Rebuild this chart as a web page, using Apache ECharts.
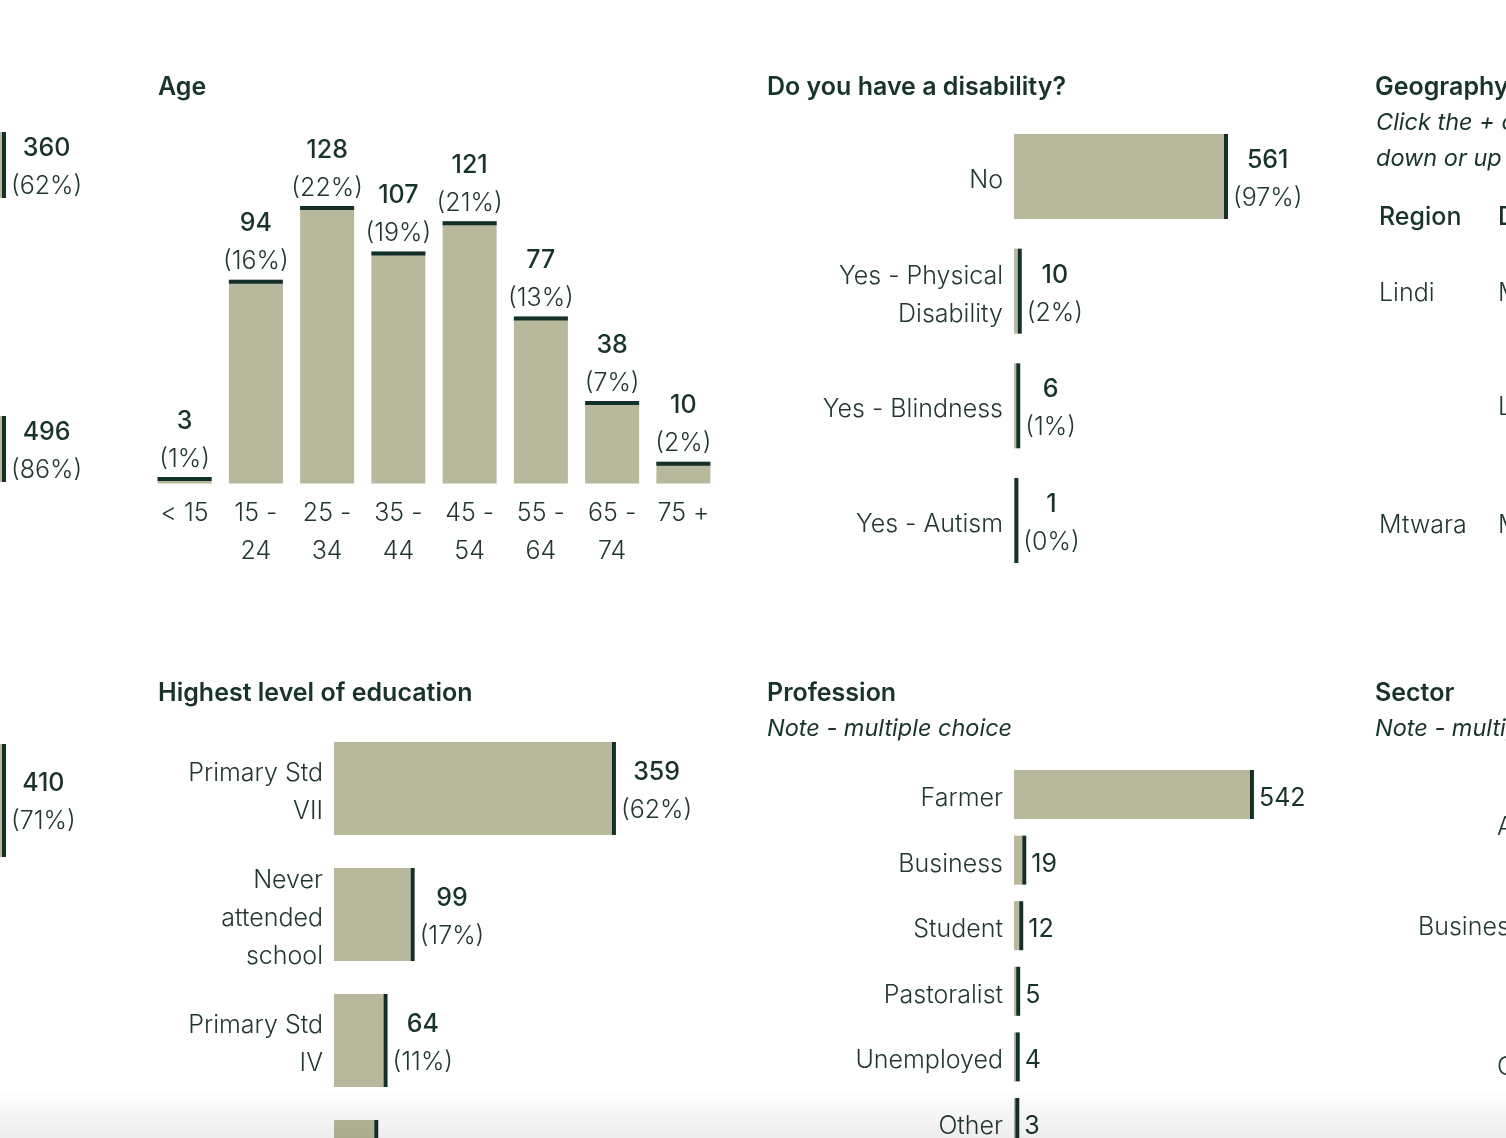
<!DOCTYPE html>
<html><head><meta charset="utf-8">
<script src="https://cdn.jsdelivr.net/npm/echarts@6/dist/echarts.min.js"></script>
<style>html,body{margin:0;padding:0;background:#fff;overflow:hidden;height:1138px}
#wrap{position:relative;width:1506px;height:1138px;overflow:hidden}
#c{width:1506px;height:1300px}</style>
</head><body><div id="wrap"><div id="c"></div></div>
<script>
// ---------- data ----------
const ageCategories = ['< 15', '15 -\n24', '25 -\n34', '35 -\n44', '45 -\n54', '55 -\n64', '65 -\n74', '75 +'];
const ageValues = [3, 94, 128, 107, 121, 77, 38, 10];
const agePcts = ['1%', '16%', '22%', '19%', '21%', '13%', '7%', '2%'];

const disabilityCategories = ['No', 'Yes - Physical\nDisability', 'Yes - Blindness', 'Yes - Autism'];
const disabilityValues = [561, 10, 6, 1];
const disabilityPcts = ['97%', '2%', '1%', '0%'];

const educationCategories = ['Primary Std\nVII', 'Never\nattended\nschool', 'Primary Std\nIV', ''];
const educationValues = [359, 99, 64, 52];
const educationPcts = ['62%', '17%', '11%', '9%'];

const professionCategories = ['Farmer', 'Business', 'Student', 'Pastoralist', 'Unemployed', 'Other'];
const professionValues = [542, 19, 12, 5, 4, 3];

const leftStripValues = [360, 496, 410];
const leftStripPcts = ['62%', '86%', '71%'];

// ---------- style ----------
const FONT = "Inter, 'Noto Sans', sans-serif";
const TAN = '#b8b89c';
const DARK = '#14302a';
const TXT = '#17332a';
const LBL = '#22372f';
const FS = 25;

const richLbl = {
  v: { fontFamily: FONT, fontSize: FS, fontWeight: 500, color: TXT, lineHeight: 38, align: 'center' },
  p: { fontFamily: FONT, fontSize: FS, fontWeight: 300, color: LBL, lineHeight: 38, align: 'center' }
};
const twoLine = (vals, pcts) => p => '{v|' + vals[p.dataIndex] + '}\n{p|(' + pcts[p.dataIndex] + ')}';

const catLabel = { fontFamily: FONT, fontSize: FS, fontWeight: 300, color: LBL, lineHeight: 38 };

const grids = [
  { left: 149, top: 180, width: 570, height: 303.5 },          // 0 age
  { left: 1014, top: 119.2, width: 224.6, height: 458.6 },     // 1 disability
  { left: 334, top: 725.5, width: 309.7, height: 504 },        // 2 education
  { left: 1014, top: 761.7, width: 261.2, height: 393.6 },     // 3 profession
  { left: 0, top: 132, width: 2, height: 66 },                 // 4 strip a (bar continues off the left edge)
  { left: 0, top: 416, width: 2, height: 66 },                 // 5 strip b
  { left: 0, top: 744, width: 2, height: 113 }                 // 6 strip c
];

const xAxes = [
  { type: 'category', gridIndex: 0, data: ageCategories, axisLine: { show: false }, axisTick: { show: false },
    axisLabel: Object.assign({ margin: 10.5, interval: 0 }, catLabel) },
  { type: 'value', gridIndex: 1, min: 0, max: 600, show: false },
  { type: 'value', gridIndex: 2, min: 0, max: 400, show: false },
  { type: 'value', gridIndex: 3, min: 0, max: 600, show: false },
  { type: 'value', gridIndex: 4, min: 0, max: v => v.max, show: false },
  { type: 'value', gridIndex: 5, min: 0, max: v => v.max, show: false },
  { type: 'value', gridIndex: 6, min: 0, max: v => v.max, show: false }
];
// category labels sit a few px below the bar centre: add a thin spacer line on top
const catRich = {
  sp: { fontSize: 1, lineHeight: 8 },
  t: { fontFamily: FONT, fontSize: FS, fontWeight: 300, color: LBL, lineHeight: 38, align: 'right' }
};
const catY = (gi, data) => ({ type: 'category', gridIndex: gi, data, inverse: true, axisLine: { show: false }, axisTick: { show: false },
  axisLabel: { margin: 11, interval: 0, align: 'right', rich: catRich,
    formatter: v => '{sp| }\n' + v.split('\n').map(s => '{t|' + s + '}').join('\n') } });
const yAxes = [
  { type: 'value', gridIndex: 0, min: 0, max: 140, show: false },
  catY(1, disabilityCategories),
  catY(2, educationCategories),
  catY(3, professionCategories),
  { type: 'category', gridIndex: 4, data: ['a'], show: false },
  { type: 'category', gridIndex: 5, data: ['b'], show: false },
  { type: 'category', gridIndex: 6, data: ['c'], show: false }
];

const series = [];
// Age (vertical)
series.push({ type: 'bar', xAxisIndex: 0, yAxisIndex: 0, data: ageValues, barWidth: 54, itemStyle: { color: TAN },
  label: { show: true, position: 'top', distance: 1, offset: [0, 2], formatter: twoLine(ageValues, agePcts), rich: richLbl } });
series.push({ type: 'scatter', xAxisIndex: 0, yAxisIndex: 0, data: ageValues, symbol: 'rect', symbolSize: [54, 4],
  symbolOffset: [0, 2], itemStyle: { color: DARK, opacity: 1 }, z: 3 });

function hbar(ai, vals, barH, labelFmt, rich, dy) {
  series.push({ type: 'bar', xAxisIndex: ai, yAxisIndex: ai, data: vals, barWidth: barH, itemStyle: { color: TAN },
    label: { show: true, position: 'right', distance: 9, offset: [0, dy], formatter: labelFmt, rich } });
  series.push({ type: 'scatter', xAxisIndex: ai, yAxisIndex: ai, data: vals.map((v, i) => [v, i]), symbol: 'rect',
    symbolSize: [4, barH], symbolOffset: [2, 0], itemStyle: { color: DARK, opacity: 1 }, z: 3, clip: false });
}
hbar(1, disabilityValues, 85, twoLine(disabilityValues, disabilityPcts), richLbl, 3);
hbar(2, educationValues, 93, twoLine(educationValues, educationPcts), richLbl, 3);
hbar(3, professionValues, 49, p => '{n|' + professionValues[p.dataIndex] + '}',
  { n: { fontFamily: FONT, fontSize: FS, fontWeight: 400, color: TXT } }, 4);
hbar(4, [leftStripValues[0]], 66, () => '{v|' + leftStripValues[0] + '}\n{p|(' + leftStripPcts[0] + ')}', richLbl, 2);
hbar(5, [leftStripValues[1]], 66, () => '{v|' + leftStripValues[1] + '}\n{p|(' + leftStripPcts[1] + ')}', richLbl, 2);
hbar(6, [leftStripValues[2]], 113, () => '{v|' + leftStripValues[2] + '}\n{p|(' + leftStripPcts[2] + ')}', richLbl, 2);

// ---------- static text ----------
function txt(x, y, text, opt) {
  return { type: 'text', x, y: y + 2, silent: true, style: Object.assign({ text, fontFamily: FONT, fontSize: FS, fontWeight: 300, fill: LBL,
    align: 'left', verticalAlign: 'middle' }, opt || {}) };
}
const TITLE = { fontWeight: 600, fill: TXT, fontSize: 25 };
const NOTE = { fontStyle: 'italic', fontWeight: 400, fill: TXT, fontSize: 23.5 };
const graphic = [
  txt(158, 85, 'Age', TITLE),
  txt(767, 85, 'Do you have a disability?', TITLE),
  txt(1375, 85, 'Geography', TITLE),
  txt(1376, 121, 'Click the + c', NOTE),
  txt(1376, 157, 'down or up', NOTE),
  txt(1379, 215, 'Region', { fontWeight: 500, fill: TXT }),
  txt(1498, 215, 'D', { fontWeight: 500, fill: TXT }),
  txt(1379, 291, 'Lindi'),
  txt(1498, 291, 'M'),
  txt(1498, 405, 'L'),
  txt(1379, 523, 'Mtwara'),
  txt(1498, 523, 'M'),
  txt(158, 691, 'Highest level of education', TITLE),
  txt(767, 691, 'Profession', TITLE),
  txt(767, 727, 'Note - multiple choice', NOTE),
  txt(1375, 691, 'Sector', TITLE),
  txt(1375, 727, 'Note - multiple choice', NOTE),
  txt(1497, 825, 'A'),
  txt(1418, 925, 'Business'),
  txt(1497, 1065, 'C'),
  { type: 'rect', silent: true, z: 100, shape: { x: 0, y: 1088, width: 1506, height: 50 },
    style: { fill: { type: 'linear', x: 0, y: 0, x2: 0, y2: 1,
      colorStops: [{ offset: 0, color: 'rgba(0,0,0,0)' }, { offset: 1, color: 'rgba(0,0,0,0.07)' }] } } }
];

const chart = echarts.init(document.getElementById('c'), null, { renderer: 'canvas' });
chart.setOption({
  animation: false,
  backgroundColor: '#ffffff',
  grid: grids,
  xAxis: xAxes,
  yAxis: yAxes,
  series,
  graphic
});
</script></body></html>
